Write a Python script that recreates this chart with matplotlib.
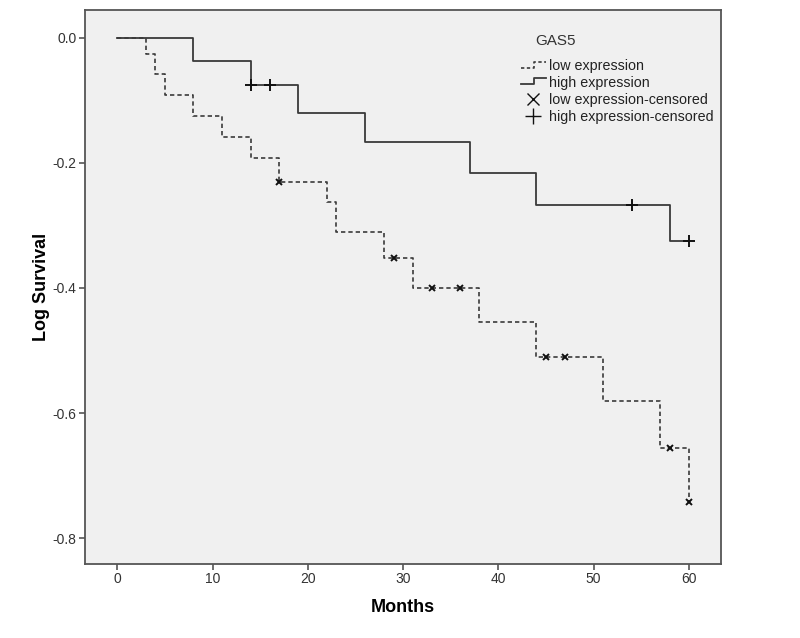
import numpy as np
import matplotlib
matplotlib.use("Agg")
import matplotlib.pyplot as plt
from matplotlib.lines import Line2D
from matplotlib.legend_handler import HandlerBase

plt.rcParams["font.family"] = ["Liberation Sans", "DejaVu Sans"]
plt.rcParams["axes.unicode_minus"] = False

# Data (months, log survival)
low_times = [0, 3, 4, 5, 8, 11, 14, 17, 22, 23, 28, 31, 38, 44, 51, 57, 60]
low_logsurv = [0, -0.027, -0.059, -0.092, -0.125, -0.159, -0.193, -0.231, -0.263,
               -0.311, -0.353, -0.400, -0.454, -0.511, -0.580, -0.655, -0.742]
low_cens_t = [17, 29, 33, 36, 45, 47, 58, 60]
low_cens_y = [-0.231, -0.353, -0.400, -0.400, -0.511, -0.511, -0.655, -0.742]

high_times = [0, 8, 14, 19, 26, 37, 44, 58, 60]
high_logsurv = [0, -0.037, -0.076, -0.121, -0.167, -0.216, -0.268, -0.325, -0.325]
high_cens_t = [14, 16, 54, 60]
high_cens_y = [-0.076, -0.076, -0.268, -0.325]

line_col = "#3a3a3a"


# step-shaped legend glyph like the SPSS output
class StepHandler(HandlerBase):
    def create_artists(self, legend, orig_handle, xdescent, ydescent,
                       width, height, fontsize, trans):
        xs = np.array([0, 0.55, 0.55, 1.0]) * width - xdescent
        ys = np.array([0.25, 0.25, 0.85, 0.85]) * height - ydescent
        ln = Line2D(xs, ys, color=orig_handle.get_color(),
                    linestyle=orig_handle.get_linestyle(),
                    linewidth=orig_handle.get_linewidth())
        if orig_handle.get_linestyle() == "--":
            ln.set_dashes((2.0, 1.5))
        ln.set_transform(trans)
        return [ln]


fig = plt.figure(figsize=(8, 6.38), dpi=100)
ax = fig.add_axes([0.106, 0.116, 0.795, 0.868])
ax.set_facecolor("#f0f0f0")

l_low, = ax.step(low_times, low_logsurv, where="post", color=line_col,
                 linewidth=1.2, linestyle="--", dashes=(2.6, 1.8))
l_high, = ax.step(high_times, high_logsurv, where="post", color=line_col,
                  linewidth=1.3)
c_low, = ax.plot(low_cens_t, low_cens_y, linestyle="none", marker="x",
                 markersize=5, markeredgewidth=1.4, color="#111111")
c_high, = ax.plot(high_cens_t, high_cens_y, linestyle="none", marker="+",
                  markersize=8, markeredgewidth=1.4, color="#111111")

ax.set_xlim(-3.41, 63.36)
ax.set_ylim(-0.841, 0.0436)
ax.set_xticks([0, 10, 20, 30, 40, 50, 60])
ax.set_yticks([0.0, -0.2, -0.4, -0.6, -0.8])
ax.set_yticklabels(["0.0", "-0.2", "-0.4", "-0.6", "-0.8"])

for s in ax.spines.values():
    s.set_color("#555555")
    s.set_linewidth(1.3)
ax.tick_params(direction="out", length=4, width=1.2, color="#555555", pad=2,
               labelsize=10, labelcolor="#333333", top=False, right=False)

ax.set_xlabel("Months", fontsize=13, fontweight="bold", labelpad=9)
ax.set_ylabel("Log Survival", fontsize=13, fontweight="bold", labelpad=2)

leg_low = Line2D([], [], color=line_col, linestyle="--", linewidth=1.2)
leg_high = Line2D([], [], color=line_col, linestyle="-", linewidth=1.3)
leg_cl = Line2D([], [], linestyle="none", marker="x", markersize=8,
                markeredgewidth=1.0, color="#111111")
leg_ch = Line2D([], [], linestyle="none", marker="+", markersize=11,
                markeredgewidth=1.0, color="#111111")
leg = ax.legend([leg_low, leg_high, leg_cl, leg_ch],
                ["low expression", "high expression",
                 "low expression-censored", "high expression-censored"],
                loc="upper left", bbox_to_anchor=(0.665, 0.935),
                frameon=False, fontsize=10.3,
                handlelength=1.75, handletextpad=0.25, labelspacing=0.2,
                handler_map={leg_low: StepHandler(), leg_high: StepHandler()})
for t in leg.get_texts():
    t.set_color("#222222")
ax.text(0.7406, 0.944, "GAS5", transform=ax.transAxes, fontsize=11,
        color="#333333", ha="center", va="center")

fig.savefig("out.png", dpi=100)
